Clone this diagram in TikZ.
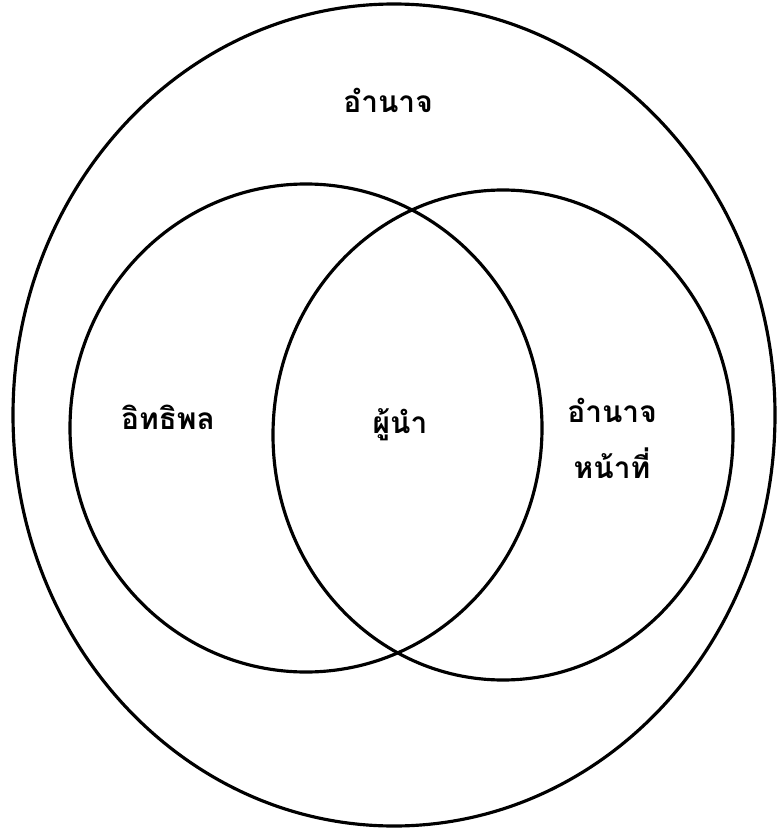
\documentclass[tikz,border=0pt]{standalone}
\usepackage{fontspec}
\newfontfamily\thaifont[Script=Thai]{Loma}
\usetikzlibrary{positioning}

\begin{document}
\begin{tikzpicture}[
    x=0.02cm, y=-0.02cm,
    every node/.style={font=\thaifont\bfseries\fontsize{17}{20}\selectfont},
    ring/.style={
        draw,
        line width=1.8pt
    },
    label/.style={
        inner sep=1pt,
        align=center
    }
]

% frame of the page
\useasboundingbox (0,0) rectangle (781,831);

% =========================================================
% RINGS
% =========================================================

\coordinate (outer) at (394,415);
\coordinate (left) at (306,428);
\coordinate (right) at (503,435);

\draw[ring] (outer) ellipse [x radius=381, y radius=411];
\draw[ring] (left) ellipse [x radius=236, y radius=244];
\draw[ring] (right) ellipse [x radius=230, y radius=245];

% =========================================================
% LABELS
% =========================================================

\node[label] (power) at (388,100) {อำนาจ};

\node[label] (influence) at (168,417) {อิทธิพล};

\node[label] (leader) at (400,425) {ผู้นำ};

\node[label] (authority) at (612,410) {อำนาจ};
\node[label, below=12pt of authority.south, anchor=north] (duty) {หน้าที่};

\end{tikzpicture}
\end{document}
